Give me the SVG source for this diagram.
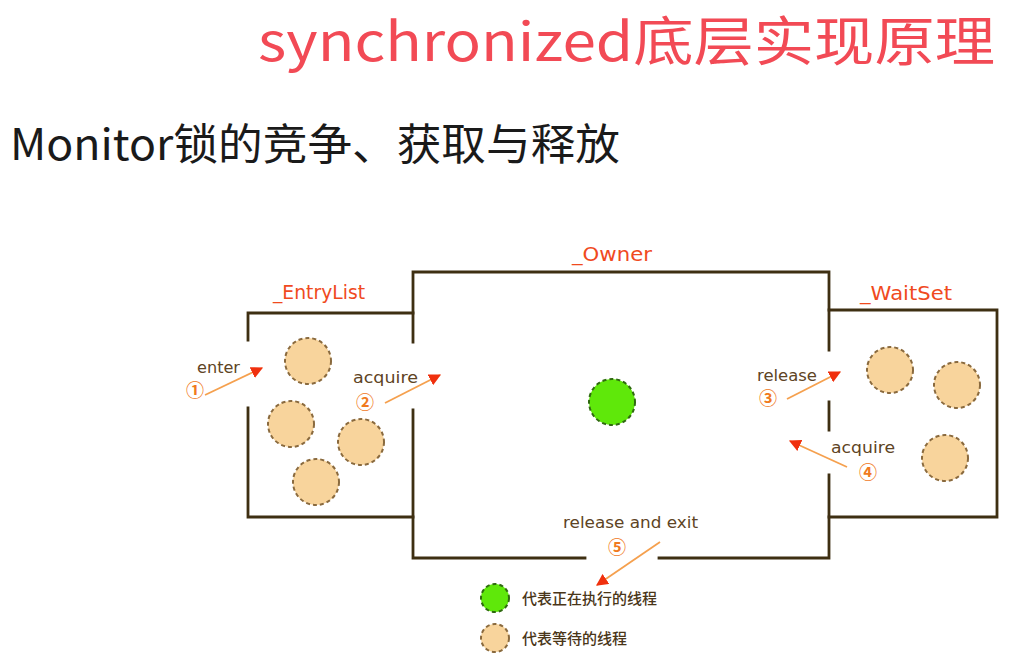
<svg xmlns="http://www.w3.org/2000/svg" width="1018" height="663" viewBox="0 0 1018 663">
  <style>
    .wall { fill: none; stroke: #3e2f12; stroke-width: 2.8; stroke-linecap: square; }
    .wait { fill: #f8d49c; stroke: #8a6a3e; stroke-width: 2; stroke-dasharray: 4 3; }
    .run { fill: #5fe80a; stroke: #2f6a10; stroke-width: 2; stroke-dasharray: 4 3; }
    .area { font-family: "DejaVu Sans", "Liberation Sans", sans-serif; font-size: 19px; fill: #f04a1e; }
    .step { font-family: "DejaVu Sans", "Liberation Sans", sans-serif; font-size: 15px; fill: #5e4424; }
    .num { font-family: "Noto Sans CJK SC", "DejaVu Sans", sans-serif; font-size: 18px; font-weight: bold; fill: #f07a1e; text-anchor: middle; }
    .flow { fill: none; stroke: #f5a04e; stroke-width: 1.8; marker-end: url(#head); }
    .legend { font-family: "Noto Sans CJK SC", sans-serif; font-size: 15px; font-weight: 500; fill: #4a3618; }
  </style>
  <defs>
    <marker id="head" viewBox="0 0 10 10" refX="9" refY="5" markerWidth="12" markerHeight="12" markerUnits="userSpaceOnUse" orient="auto">
      <path d="M0,0 L10,5 L0,10 z" fill="#f0300e"/>
    </marker>
  </defs>
  <rect width="1018" height="663" fill="#ffffff"/>

  <!-- headings -->
  <text x="258" y="61" font-family="Noto Sans CJK SC, sans-serif" font-size="53" fill="#f24a55" textLength="737" lengthAdjust="spacingAndGlyphs">synchronized底层实现原理</text>
  <text x="10" y="160" font-family="Noto Sans CJK SC, sans-serif" font-size="43" fill="#1a1a1a" textLength="610" lengthAdjust="spacingAndGlyphs">Monitor锁的竞争、获取与释放</text>

  <!-- _EntryList area -->
  <g id="entrylist">
    <path class="wall" d="M413,313 H248 V340 M248,408 V517 H413"/>
    <text class="area" x="273" y="299" textLength="92" lengthAdjust="spacingAndGlyphs">_EntryList</text>
    <circle class="wait" cx="308" cy="361" r="23"/>
    <circle class="wait" cx="291" cy="424" r="23"/>
    <circle class="wait" cx="361" cy="442" r="23"/>
    <circle class="wait" cx="316" cy="482" r="23"/>
  </g>

  <!-- _Owner area -->
  <g id="owner">
    <path class="wall" d="M413,342 V272 H829 V350 M829,402 V430 M829,475 V558 H659 M585,558 H413 V410"/>
    <text class="area" x="572" y="261" textLength="80" lengthAdjust="spacingAndGlyphs">_Owner</text>
    <circle class="run" cx="612" cy="402" r="23"/>
  </g>

  <!-- _WaitSet area -->
  <g id="waitset">
    <path class="wall" d="M829,310 H997 V517 H829"/>
    <text class="area" x="860" y="300" textLength="92" lengthAdjust="spacingAndGlyphs">_WaitSet</text>
    <circle class="wait" cx="890" cy="370" r="23"/>
    <circle class="wait" cx="957" cy="385" r="23"/>
    <circle class="wait" cx="945" cy="458" r="23"/>
  </g>

  <!-- thread movements -->
  <g id="connectors">
    <line class="flow" x1="205" y1="395" x2="262" y2="368"/>
    <line class="flow" x1="385" y1="403" x2="440" y2="375"/>
    <line class="flow" x1="787" y1="399" x2="840" y2="372"/>
    <line class="flow" x1="847" y1="467" x2="790" y2="441"/>
    <line class="flow" x1="660" y1="542" x2="597" y2="585"/>
  </g>

  <g id="labels">
    <text class="step" x="197" y="373" textLength="43" lengthAdjust="spacingAndGlyphs">enter</text>
    <text class="num" x="195" y="397">①</text>
    <text class="step" x="353" y="383" textLength="65" lengthAdjust="spacingAndGlyphs">acquire</text>
    <text class="num" x="365" y="409">②</text>
    <text class="step" x="757" y="381" textLength="60" lengthAdjust="spacingAndGlyphs">release</text>
    <text class="num" x="768" y="405">③</text>
    <text class="step" x="831" y="453" textLength="64" lengthAdjust="spacingAndGlyphs">acquire</text>
    <text class="num" x="868" y="479">④</text>
    <text class="step" x="563" y="528" textLength="135" lengthAdjust="spacingAndGlyphs" fill="#7a5a2a">release and exit</text>
    <text class="num" x="617" y="554">⑤</text>
  </g>

  <!-- legend -->
  <g id="legend">
    <circle class="run" cx="495" cy="598" r="14"/>
    <text class="legend" x="522" y="604">代表正在执行的线程</text>
    <circle class="wait" cx="495" cy="638" r="14"/>
    <text class="legend" x="522" y="644">代表等待的线程</text>
  </g>
</svg>
